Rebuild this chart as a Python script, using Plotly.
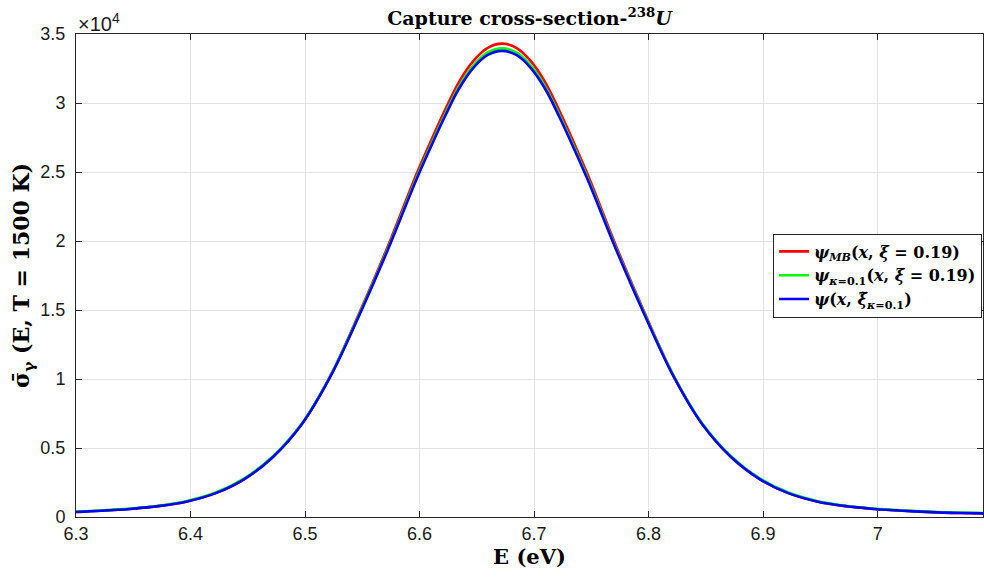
import plotly.graph_objects as go

# Energy grid (eV)
energy = [6.297, 6.322, 6.347, 6.372, 6.397, 6.422, 6.447, 6.472, 6.497, 6.522, 6.547,
          6.572, 6.597, 6.6095, 6.622, 6.6345, 6.647, 6.6595, 6.672, 6.6845, 6.697,
          6.7095, 6.722, 6.7345, 6.747, 6.772, 6.797, 6.822,
          6.847, 6.872, 6.897, 6.922, 6.947, 6.972, 6.997, 7.022, 7.047, 7.072, 7.097]

# psi_MB(x, xi = 0.19)
sigma_mb = [350, 450, 585, 790, 1130, 1730, 2750, 4350, 6720, 10210, 14700,
            19550, 24780, 27170, 29450, 31530, 33050, 34000, 34300, 34000, 33050,
            31530, 29450, 27170, 24780, 19550, 14700, 10210,
            6720, 4350, 2750, 1730, 1130, 790, 585, 450, 350, 290, 255]

# psi_kappa=0.1(x, xi = 0.19)
sigma_kappa = [375, 475, 610, 820, 1165, 1770, 2800, 4400, 6750, 10200, 14610,
               19380, 24520, 26890, 29150, 31210, 32720, 33660, 33960, 33660, 32720,
               31210, 29150, 26890, 24520, 19380, 14610, 10200,
               6750, 4400, 2800, 1770, 1165, 820, 610, 475, 375, 315, 280]

# psi(x, xi~_kappa=0.1)
sigma_tilde = [350, 450, 585, 790, 1130, 1730, 2750, 4350, 6700, 10150, 14550,
               19300, 24400, 26750, 29000, 31050, 32550, 33480, 33780, 33480, 32550,
               31050, 29000, 26750, 24400, 19300, 14550, 10150,
               6700, 4350, 2750, 1730, 1130, 790, 585, 450, 350, 290, 255]

x_ticks = [6.3, 6.4, 6.5, 6.6, 6.7, 6.8, 6.9, 7.0]
x_ticktext = ["6.3", "6.4", "6.5", "6.6", "6.7", "6.8", "6.9", "7"]
y_ticks = [0, 5000, 10000, 15000, 20000, 25000, 30000, 35000]
y_ticktext = ["0", "0.5", "1", "1.5", "2", "2.5", "3", "3.5"]

names = [
    "<b><i>ψ</i><sub><i>MB</i></sub>(<i>x</i>, <i>ξ</i> = 0.19)</b>",
    "<b><i>ψ</i><sub><i>κ</i>=0.1</sub>(<i>x</i>, <i>ξ</i> = 0.19)</b>",
    "<b><i>ψ</i>(<i>x</i>, <i>ξ̃</i><sub><i>κ</i>=0.1</sub>)</b>",
]
colors = ["#ff0000", "#00ff00", "#0000ff"]
series = [sigma_mb, sigma_kappa, sigma_tilde]

fig = go.Figure()
for n, c, s in zip(names, colors, series):
    fig.add_trace(go.Scatter(x=energy, y=s, mode="lines", name=n,
                             line=dict(color=c, width=2.6, shape="spline", smoothing=1.0)))

serif = "DejaVu Serif"
sans = "Liberation Sans, Arial, sans-serif"

axis_common = dict(showline=True, linecolor="#262626", linewidth=1, mirror="ticks",
                   ticks="inside", ticklen=6, tickcolor="#262626",
                   showgrid=True, gridcolor="#e3e3e3", gridwidth=1, zeroline=False,
                   automargin=False,
                   tickfont=dict(family=sans, size=18, color="#1a1a1a"))

fig.update_layout(
    width=984, height=584,
    margin=dict(l=76, r=1, t=34, b=67),
    paper_bgcolor="white", plot_bgcolor="white",
    title=dict(text="<b>Capture cross-section-<sup>238</sup><i>U</i></b>",
               x=(76 + 983) / 2 / 984, xanchor="center", y=1 - 18 / 584, yanchor="middle",
               font=dict(family=serif, size=19, color="black")),
    xaxis=dict(range=[6.3, 7.092], tickvals=x_ticks, ticktext=x_ticktext,
               title=dict(text="<b>E (eV)</b>", font=dict(family=serif, size=21, color="black"),
                          standoff=6),
               **axis_common),
    yaxis=dict(range=[0, 35000], tickvals=y_ticks, ticktext=y_ticktext,
               ticklabelstandoff=6,
               title=dict(text="<b>σ̄<sub>γ</sub> (E, T = 1500 K)</b>",
                          font=dict(family=serif, size=22, color="black"), standoff=4),
               **axis_common),
    legend=dict(x=0.999, xanchor="right", y=0.5, yanchor="middle",
                bgcolor="white", bordercolor="#262626", borderwidth=1,
                font=dict(family=serif, size=16, color="black"),
                tracegroupgap=0, itemwidth=30),
    showlegend=True,
)

fig.add_annotation(text="×10<sup>4</sup>", xref="paper", yref="paper",
                   x=0.0, y=1.0, xanchor="left", yanchor="bottom", showarrow=False,
                   font=dict(family=sans, size=20, color="#1a1a1a"), xshift=0, yshift=-3)

# remove the browser's default body margin so the figure fills the window exactly
fig.write_html("out.html", config={"displayModeBar": False},
               post_script="document.body.style.margin='0';document.body.style.overflow='hidden';")
